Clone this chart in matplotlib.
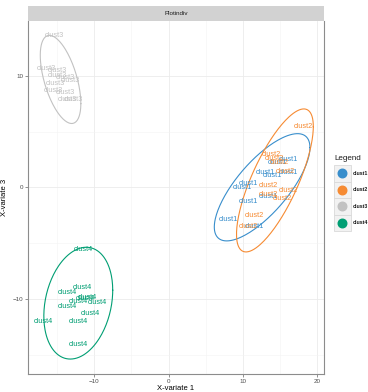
import numpy as np
import matplotlib
matplotlib.use("Agg")
import matplotlib.pyplot as plt
from matplotlib.patches import Rectangle

plt.rcParams['font.family'] = ['Liberation Sans', 'DejaVu Sans']

# sample coordinates per cluster (component 1 vs component 3)
clust1_x = [16.2, 14.7, 13.1, 14.05, 16.2, 10.7, 10.0, 10.8, 13.4, 8.0, 11.5]
clust1_y = [2.47, 2.2, 1.3, 1.03, 1.3, 0.4, 0.04, -1.3, -0.85, -2.9, -3.5]

clust2_x = [18.2, 13.9, 14.2, 14.9, 15.8, 13.5, 13.4, 16.1, 15.4, 11.5, 10.7]
clust2_y = [5.5, 3.0, 2.6, 2.2, 1.4, 0.2, -0.6, -0.3, -1.0, -2.55, -3.5]

clust3_x = [-15.4, -16.4, -15.0, -15.0, -13.9, -13.2, -15.3, -15.5, -13.9, -13.7, -12.8]
clust3_y = [13.6, 10.7, 10.5, 10.0, 9.9, 9.6, 9.3, 8.7, 8.5, 7.9, 7.9]

clust4_x = [-11.5, -11.6, -13.7, -11.0, -12.1, -9.6, -11.2, -13.7, -10.5, -16.9, -12.1, -12.1]
clust4_y = [-5.6, -9.0, -9.4, -9.9, -10.2, -10.3, -10.0, -10.7, -11.3, -12.0, -12.0, -14.1]

groups = ["clust1", "clust2", "clust3", "clust4"]
xs = [clust1_x, clust2_x, clust3_x, clust4_x]
ys = [clust1_y, clust2_y, clust3_y, clust4_y]
colors = ["#388ECC", "#F68B33", "#C2C2C2", "#009E73"]

x_ticks = [-10, 0, 10, 20]
y_ticks = [-10, 0, 10]


def conf_ellipse(x, y, level_t=np.sqrt(5.991), n=200):
    # 95% normal ellipse from sample mean and covariance
    pts = np.column_stack([x, y])
    centre = pts.mean(axis=0)
    cov = np.cov(pts, rowvar=False)
    chol = np.linalg.cholesky(cov)
    a = np.linspace(0, 2 * np.pi, n)
    circ = np.vstack([np.cos(a), np.sin(a)])
    ell = (chol @ circ) * level_t
    return centre[0] + ell[0], centre[1] + ell[1]


fig = plt.figure(figsize=(3.68, 3.92), dpi=100)
ax = fig.add_axes([0.0761, 0.0459, 0.8043, 0.9005])

for name, gx, gy, col in zip(groups, xs, ys, colors):
    ex, ey = conf_ellipse(gx, gy)
    ax.plot(ex, ey, color=col, lw=0.8, zorder=3)
    for px, py in zip(gx, gy):
        ax.text(px, py, name, color=col, fontsize=5.3, ha="center", va="center", zorder=4)

ax.set_xlim(-18.94, 20.94)
ax.set_ylim(-16.73, 14.93)
ax.set_xticks(x_ticks)
ax.set_yticks(y_ticks)
ax.set_xticks([-15, -5, 5, 15], minor=True)
ax.set_yticks([-15, -5, 5], minor=True)
ax.grid(True, which="major", color="#ebebeb", lw=0.6, zorder=0)
ax.grid(True, which="minor", color="#f3f3f3", lw=0.4, zorder=0)
ax.set_axisbelow(True)
ax.tick_params(which="major", length=2, width=0.6, color="#7f7f7f",
               labelsize=4.5, labelcolor="#4d4d4d", pad=1.5)
ax.tick_params(which="minor", length=0)
for s in ax.spines.values():
    s.set_color("#8c8c8c")
    s.set_linewidth(0.8)
ax.spines["top"].set_visible(False)

ax.set_xlabel("X-variate 1", fontsize=5.5, labelpad=1)
ax.set_ylabel("X-variate 3", fontsize=5.5, labelpad=3)

# facet strip
strip = fig.add_axes([0.0761, 0.9464, 0.8043, 0.0383])
strip.set_facecolor("#d2d2d2")
strip.set_xticks([])
strip.set_yticks([])
for s in strip.spines.values():
    s.set_visible(False)
strip.text(0.5, 0.5, "Plotindiv", fontsize=4.5, ha="center", va="center",
           color="#1a1a1a", transform=strip.transAxes)

# legend with boxed keys
lg = fig.add_axes([333 / 368, 1 - 234 / 392, 35 / 368, 82 / 392])
lg.set_xlim(0, 35)
lg.set_ylim(82, 0)
lg.axis("off")
lg.text(1, 6, "Legend", fontsize=5.8, ha="left", va="center", color="#1a1a1a")
for i, (name, col) in enumerate(zip(groups, colors)):
    top = 13 + i * 16.5
    lg.add_patch(Rectangle((0.5, top), 17, 16.5, facecolor="#f2f2f2",
                           edgecolor="#d9d9d9", lw=0.6))
    lg.scatter([9], [top + 8.25], s=38, color=col, zorder=3)
    lg.text(20, top + 8.25, name, fontsize=3.8, ha="left", va="center",
            color="#1a1a1a", fontweight="bold")

fig.savefig("out.png", dpi=100)
